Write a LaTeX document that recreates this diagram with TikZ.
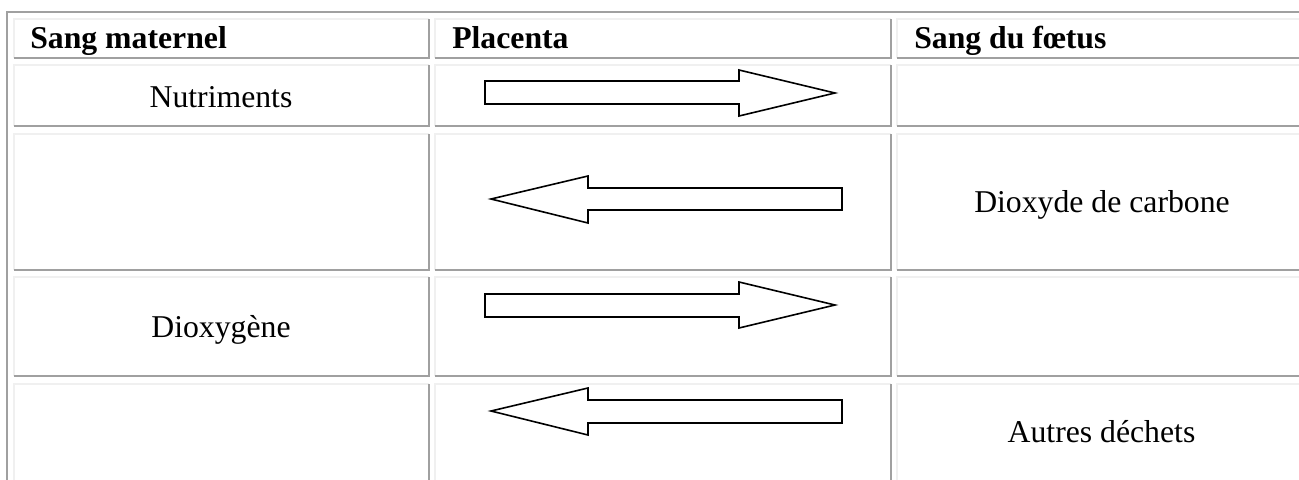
\documentclass[tikz,border=0pt]{standalone}
\usepackage{fontspec}
\setmainfont{Liberation Serif}
\definecolor{bdark}{HTML}{A0A0A0}
\definecolor{blight}{HTML}{F0F0F0}
\begin{document}
\begin{tikzpicture}[x=0.75pt,y=-0.75pt,
  darkline/.style={draw=bdark,line width=1pt},
  lightline/.style={draw=blight,line width=1pt},
  arrowshape/.style={draw=black,line width=1.2pt,fill=white,line join=miter},
  celltext/.style={anchor=base,inner sep=0pt,font=\fontsize{23.8}{28}\selectfont},
  headtext/.style={anchor=base west,inner sep=0pt,font=\fontsize{23.8}{28}\selectfont\bfseries}]
\useasboundingbox (0,0) rectangle (1299,479);
\fill[white] (0,0) rectangle (1299,479);
\clip (0,0) rectangle (1299,479);
% outer table border
\draw[darkline] (7,490) -- (7,12) -- (1310,12);
% cells: light top/left, dark bottom/right
\foreach \xa/\xb in {14/429,435/891,897/1310}
  \foreach \ya/\yb in {19/58,65/126,134/270,277/376,384/490} {
    \draw[lightline] (\xa,\yb) -- (\xa,\ya) -- (\xb,\ya);
    \draw[darkline] (\xb,\ya) -- (\xb,\yb) -- (\xa,\yb);
  }
% headers
\node[headtext] (hdA) at (30,48) {Sang maternel};
\node[headtext] (hdB) at (452,48) {Placenta};
\node[headtext] (hdC) at (914,48) {Sang du fœtus};
% cell texts
\node[celltext] (nut) at (221,107) {Nutriments};
\node[celltext] (co2) at (1102,212) {Dioxyde de carbone};
\node[celltext] (oxy) at (221,337) {Dioxygène};
\node[celltext] (dech) at (1101.5,442) {Autres déchets};
% arrows
\draw[arrowshape] (485,81) -- (739,81) -- (739,70) -- (835,93) -- (739,116) -- (739,104) -- (485,104) -- cycle;
\draw[arrowshape] (842,188) -- (588,188) -- (588,176) -- (491,199) -- (588,223) -- (588,210) -- (842,210) -- cycle;
\draw[arrowshape] (485,294) -- (739,294) -- (739,282) -- (835,305) -- (739,328) -- (739,317) -- (485,317) -- cycle;
\draw[arrowshape] (842,400) -- (588,400) -- (588,388) -- (491,411) -- (588,435) -- (588,423) -- (842,423) -- cycle;
\end{tikzpicture}
\end{document}
